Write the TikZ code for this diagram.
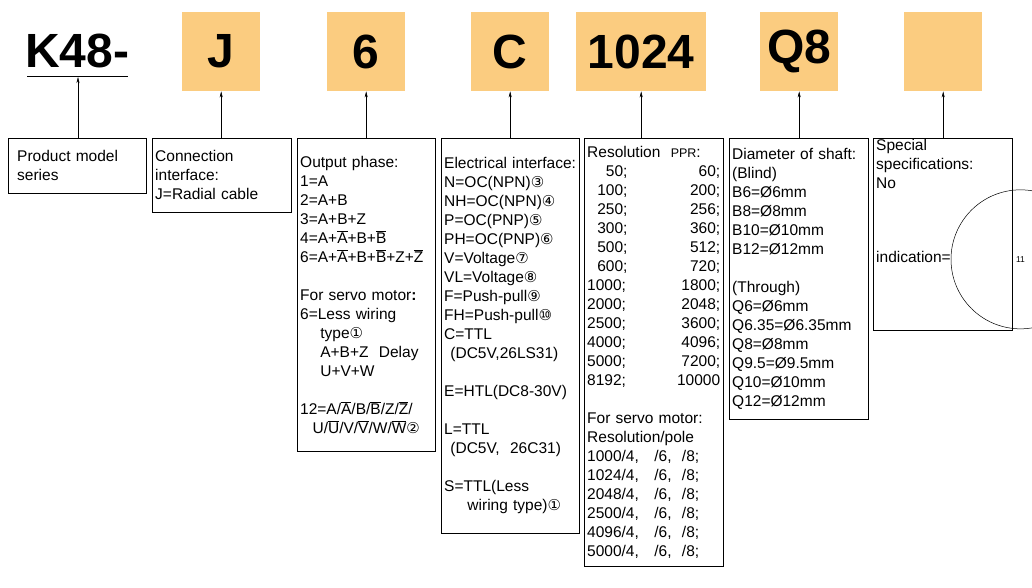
\documentclass[tikz,border=0pt]{standalone}
\usepackage{fontspec}
\setmainfont{Liberation Sans}
\newfontfamily\symfont{DejaVu Sans}
\usetikzlibrary{arrows.meta}
\newcommand{\ovl}[1]{\ensuremath{\overline{\hbox{#1}}}}
\newcommand{\cn}[1]{{\symfont\fontsize{15}{19}\selectfont #1}}
\newcommand{\cnum}[1]{\tikz[baseline=(n.base)]\node[draw, circle, inner sep=0.5pt, line width=0.5pt,
    font=\fontsize{8.5}{9}\selectfont] (n) {#1};}

\begin{document}
\begin{tikzpicture}[x=1pt, y=-1pt,
        every node/.style={font=\fontsize{15.5}{19}\selectfont}]
        \tikzset{codeBox/.style={fill={rgb,255:red,251;green,204;blue,128}, minimum width=78pt,
                    minimum height=79pt, anchor=north west, inner sep=0pt,
                    font=\fontsize{48}{48}\selectfont\bfseries}}
        \tikzset{infoBox/.style={draw=black, anchor=north west, align=left, inner xsep=3pt,
                    inner ysep=1pt, text width=#1-6pt, minimum width=#1}}
        \tikzset{upArrow/.style={draw=black, -{Stealth[length=6pt,width=3pt]}}}
        \useasboundingbox (0,0) rectangle (1032,588);
        % code fields
        \node[anchor=base west, inner sep=0pt, font=\fontsize{48}{48}\selectfont\bfseries]
            (series) at (25,68) {K48-};
        \draw (27,76) -- (128,76);
        \coordinate (seriesLine) at (78,77);
        \node[codeBox] (sqJ) at (182,12) {J};
        \node[codeBox] (sqSix) at (327,12) {6};
        \node[codeBox] (sqC) at (471,12) {C};
        \node[codeBox, minimum width=130pt] (sqRes) at (576,12) {1024};
        \node[codeBox] (sqShaft) at (760,12) {Q8};
        \node[codeBox] (sqSpec) at (904,12) {};
        % description boxes
        \node[infoBox=138pt, minimum height=55pt] (boxSeries) at (8,138)
            {\hspace*{6pt}Product model\\\hspace*{6pt}series};
        \node[infoBox=139pt, minimum height=74pt] (boxJ) at (152,138)
            {Connection\\interface:\\J=Radial cable};
        \node[infoBox=138pt, minimum height=313pt] (boxSix) at (297,138)
            {Output phase:\\1=A\\2=A+B\\3=A+B+Z\\4=A+\ovl{A}+B+\ovl{B}\\
             6=A+\ovl{A}+B+\ovl{B}+Z+\ovl{Z}\\[19pt]
             For servo motor\textbf{:}\\6=Less wiring\\\hspace*{1.3em}type\cn{①}\\
             \hspace*{1.3em}A+B+Z\ \ Delay\\\hspace*{1.3em}U+V+W\\[19pt]
             12=A/\ovl{A}/B/\ovl{B}/Z/\ovl{Z}/\\
             \hspace*{0.8em}U/\ovl{U}/V/\ovl{V}/W/\ovl{W}\cn{②}};
        \node[infoBox=138pt, minimum height=395pt] (boxC) at (441,138)
            {Electrical interface:\\N=OC(NPN)\cn{③}\\NH=OC(NPN)\cn{④}\\P=OC(PNP)\cn{⑤}\\
             PH=OC(PNP)\cn{⑥}\\V=Voltage\cn{⑦}\\VL=Voltage\cn{⑧}\\F=Push-pull\cn{⑨}\\
             FH=Push-pull\cn{⑩}\\C=TTL\\\hspace*{0.4em}(DC5V,26LS31)\\[19pt]
             E=HTL(DC8-30V)\\[19pt]
             L=TTL\\\hspace*{0.4em}(DC5V,\ \ 26C31)\\[19pt]
             S=TTL(Less\\\hspace*{1.5em}wiring type)\cn{①}};
        \node[infoBox=139pt, minimum height=428pt] (boxRes) at (584,138)
            {Resolution\ \ {\fontsize{12.5}{19}\selectfont PPR}:\\
             \makebox[2.6em][r]{50;}\hfill 60;\\
             \makebox[2.6em][r]{100;}\hfill 200;\\
             \makebox[2.6em][r]{250;}\hfill 256;\\
             \makebox[2.6em][r]{300;}\hfill 360;\\
             \makebox[2.6em][r]{500;}\hfill 512;\\
             \makebox[2.6em][r]{600;}\hfill 720;\\
             1000;\hfill 1800;\\2000;\hfill 2048;\\2500;\hfill 3600;\\
             4000;\hfill 4096;\\5000;\hfill 7200;\\8192;\hfill 10000\hspace*{4pt}\\[19pt]
             For servo motor:\\Resolution/pole\\
             1000/4,\ \ \ /6,\ \ /8;\\1024/4,\ \ \ /6,\ \ /8;\\2048/4,\ \ \ /6,\ \ /8;\\
             2500/4,\ \ \ /6,\ \ /8;\\4096/4,\ \ \ /6,\ \ /8;\\5000/4,\ \ \ /6,\ \ /8;};
        \node[infoBox=139pt, minimum height=281pt] (boxShaft) at (729,138)
            {Diameter of shaft:\\(Blind)\\B6=Ø6mm\\B8=Ø8mm\\B10=Ø10mm\\B12=Ø12mm\\[19pt]
             (Through)\\Q6=Ø6mm\\Q6.35=Ø6.35mm\\Q8=Ø8mm\\Q9.5=Ø9.5mm\\Q10=Ø10mm\\Q12=Ø12mm};
        \node[infoBox=139pt, minimum height=73pt] (boxSpec) at (873,138)
            {Special\\specifications:\\No indication=\cnum{11}};
        % connectors
        \draw[upArrow] (seriesLine |- boxSeries.north) -- (seriesLine);
        \foreach \from/\to in {boxJ/sqJ, boxSix/sqSix, boxC/sqC, boxRes/sqRes,
                               boxShaft/sqShaft, boxSpec/sqSpec}
            \draw[upArrow] (\to.south |- \from.north) -- (\to.south);
    \end{tikzpicture}
\end{document}
